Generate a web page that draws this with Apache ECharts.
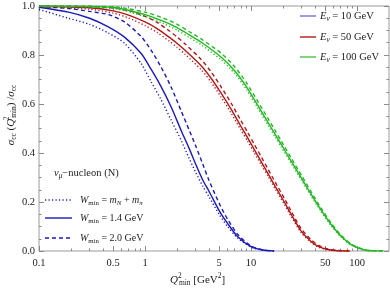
<!DOCTYPE html>
<html><head><meta charset="utf-8">
<script src="https://cdn.jsdelivr.net/npm/echarts@6/dist/echarts.min.js"></script>
<style>html,body{margin:0;padding:0;background:#fff}#c{width:390px;height:289px}</style>
</head><body><div id="c"></div>
<script>
// ---- tick labels ----
const xTickValues = [0.1, 0.5, 1, 5, 10, 50, 100];
const xTickLabels = ['0.1', '0.5', '1', '5', '10', '50', '100'];
const xMinorTicks = [0.2,0.3,0.4,0.6,0.7,0.8,0.9,2,3,4,6,7,8,9,20,30,40,60,70,80,90];

// ---- E = 10 GeV (blue) ----
const qBlue      = [0.1, 0.19, 0.3, 0.45, 0.64, 0.92, 1.14, 1.4, 1.76, 2.2, 2.6, 3.0, 3.5, 4.0, 5.0, 6.0, 7.5, 10, 13, 16.5];
const blueSolid  = [0.995,0.975,0.95,0.915,0.873,0.806,0.742,0.675,0.589,0.49,0.42,0.355,0.29,0.245,0.165,0.113,0.058,0.018,0.004,0];
const blueDashed = [0.998,0.99,0.978,0.965,0.935,0.875,0.82,0.755,0.67,0.57,0.495,0.43,0.355,0.29,0.195,0.13,0.068,0.02,0.004,0];
const blueDotted = [0.986,0.95,0.925,0.89,0.848,0.765,0.691,0.622,0.535,0.45,0.379,0.322,0.265,0.222,0.15,0.1,0.052,0.016,0.003,0];

// ---- E = 50 GeV (red) ----
const qRed      = [0.1, 0.3, 0.5, 0.7, 1.0, 1.3, 1.7, 2.0, 2.4, 3.4, 4.2, 5.2, 6.5, 8.0, 9.3, 10.7, 12.5, 14.5, 17, 20.6, 24, 29.6, 37, 43, 53, 65, 85];
const redSolid  = [0.999,0.993,0.98,0.963,0.935,0.908,0.872,0.848,0.818,0.755,0.705,0.645,0.578,0.51,0.462,0.415,0.364,0.315,0.262,0.2,0.148,0.082,0.038,0.019,0.006,0.001,0];
const redDashed = [1.0,0.998,0.992,0.981,0.958,0.933,0.898,0.874,0.844,0.781,0.731,0.671,0.603,0.533,0.484,0.436,0.384,0.333,0.279,0.215,0.161,0.092,0.045,0.024,0.008,0.002,0];
const redDotted = [0.997,0.987,0.971,0.951,0.92,0.892,0.856,0.832,0.802,0.739,0.689,0.629,0.562,0.495,0.448,0.402,0.352,0.304,0.252,0.191,0.14,0.076,0.034,0.016,0.005,0.001,0];

// ---- E = 100 GeV (green) ----
const qGreen      = [0.1, 0.5, 1.0, 1.5, 2.0, 2.6, 3.4, 5.2, 7.0, 9.0, 11.6, 14.4, 17, 19.2, 23.8, 30, 36.8, 45, 57, 70, 88, 117, 150, 175];
const greenSolid  = [1.0,0.994,0.965,0.937,0.912,0.883,0.852,0.792,0.736,0.672,0.594,0.526,0.474,0.436,0.368,0.296,0.232,0.172,0.108,0.062,0.026,0.004,0.0005,0];
const greenDashed = [1.0,0.997,0.975,0.95,0.926,0.896,0.865,0.808,0.752,0.688,0.61,0.542,0.489,0.45,0.381,0.308,0.242,0.18,0.114,0.066,0.029,0.005,0.001,0];
const greenDotted = [0.999,0.99,0.957,0.928,0.902,0.872,0.841,0.781,0.725,0.661,0.583,0.515,0.464,0.426,0.359,0.288,0.225,0.166,0.103,0.059,0.024,0.003,0.0004,0];

const BLUE = '#1a1ab8', RED = '#b01818', GREEN = '#22b822';
const F = '"Liberation Serif", "DejaVu Serif", serif';
const TXT = '#222';

function pairs(qs, ys) { return qs.map((q, i) => [q, ys[i]]); }
const DASH = [4, 3], DOT = [1.2, 2.3];
function line(name, qs, ys, color, type) {
  return {
    name, type: 'line', data: pairs(qs, ys), showSymbol: false, symbol: 'none',
    smooth: 0.25, silent: true, animation: false,
    lineStyle: { color, width: 1.4, type }
  };
}

function rich(fs) {
  return {
    i:   { fontFamily: F, fontSize: fs, fontStyle: 'italic', color: TXT, lineHeight: 16, height: 16 },
    n:   { fontFamily: F, fontSize: fs, color: TXT, lineHeight: 16, height: 16 },
    sub: { fontFamily: F, fontSize: fs * 0.68, color: TXT, lineHeight: 9, height: 9, verticalAlign: 'bottom' },
    isub:{ fontFamily: F, fontSize: fs * 0.7, fontStyle: 'italic', color: TXT, lineHeight: 9, height: 9, verticalAlign: 'bottom' },
    sup: { fontFamily: F, fontSize: fs * 0.68, color: TXT, lineHeight: 9, height: 9, verticalAlign: 'top' },
    supw:{ fontFamily: F, fontSize: fs * 0.68, color: TXT, lineHeight: 9, height: 9, verticalAlign: 'top', width: 1 }
  };
}
function txt(x, y, text, fs, extra) {
  return Object.assign({
    type: 'text', x, y, silent: true,
    style: { text, rich: rich(fs), align: 'left', verticalAlign: 'middle', fontFamily: F, fontSize: fs, fill: TXT }
  }, extra || {});
}
function seg(x1, x2, y, color, lt) {
  return { type: 'line', silent: true, shape: { x1, y1: y, x2, y2: y },
           style: { stroke: color, lineWidth: 1.4, lineDash: lt } };
}

const axisCommon = { type: 'log', logBase: 10, min: 0.1, max: 200, splitLine: { show: false }, axisLine: { show: false } };
const GRAYT = '#8a8a8a';

const option = {
  animation: false,
  backgroundColor: '#fff',
  grid: { left: 39, top: 6, width: 350, height: 245, show: true, borderColor: '#9a9a9a', borderWidth: 1, backgroundColor: 'transparent' },
  xAxis: [
    Object.assign({}, axisCommon, { position: 'bottom',
      axisTick: { show: true, inside: true, length: 5, lineStyle: { color: GRAYT }, customValues: xTickValues },
      axisLabel: { show: true, customValues: xTickValues, margin: 7, fontFamily: F, fontSize: 10.5, color: TXT,
        formatter: v => { let b = 0; xTickValues.forEach((t, i) => { if (Math.abs(Math.log10(t) - Math.log10(v)) < Math.abs(Math.log10(xTickValues[b]) - Math.log10(v))) b = i; }); return xTickLabels[b]; } } }),
    Object.assign({}, axisCommon, { position: 'bottom',
      axisTick: { show: true, inside: true, length: 2.5, lineStyle: { color: GRAYT }, customValues: xMinorTicks },
      axisLabel: { show: false } }),
    Object.assign({}, axisCommon, { position: 'top',
      axisTick: { show: true, inside: true, length: 5, lineStyle: { color: GRAYT }, customValues: xTickValues },
      axisLabel: { show: false } }),
    Object.assign({}, axisCommon, { position: 'top',
      axisTick: { show: true, inside: true, length: 2.5, lineStyle: { color: GRAYT }, customValues: xMinorTicks },
      axisLabel: { show: false } })
  ],
  yAxis: [
    { type: 'value', min: 0, max: 1, interval: 0.2, position: 'left', splitLine: { show: false }, axisLine: { show: false },
      axisTick: { show: true, inside: true, length: 5, lineStyle: { color: GRAYT } },
      minorTick: { show: true, splitNumber: 4, length: 2.5, lineStyle: { color: GRAYT } },
      axisLabel: { margin: 4, fontFamily: F, fontSize: 10.5, color: TXT, formatter: v => v.toFixed(1) } },
    { type: 'value', min: 0, max: 1, interval: 0.2, position: 'right', splitLine: { show: false }, axisLine: { show: false },
      axisTick: { show: true, inside: true, length: 5, lineStyle: { color: GRAYT } },
      minorTick: { show: true, splitNumber: 4, length: 2.5, lineStyle: { color: GRAYT } },
      axisLabel: { show: false } }
  ],
  series: [
    line('b-dot', qBlue, blueDotted, BLUE, DOT),
    line('b-dash', qBlue, blueDashed, BLUE, DASH),
    line('b-sol', qBlue, blueSolid, BLUE, 'solid'),
    line('r-dot', qRed, redDotted, RED, DOT),
    line('r-dash', qRed, redDashed, RED, DASH),
    line('r-sol', qRed, redSolid, RED, 'solid'),
    line('g-dot', qGreen, greenDotted, GREEN, DOT),
    line('g-dash', qGreen, greenDashed, GREEN, DASH),
    line('g-sol', qGreen, greenSolid, GREEN, 'solid')
  ],
  graphic: [
    seg(300, 316, 16, '#7070dd'), seg(300, 316, 37, RED), seg(300, 316, 57, '#44c444'),
    txt(320, 16, '{i|E}{isub|ν}{n| = 10 GeV}', 10.5),
    txt(320, 37, '{i|E}{isub|ν}{n| = 50 GeV}', 10.5),
    txt(320, 57, '{i|E}{isub|ν}{n| = 100 GeV}', 10.5),
    txt(54, 173, '{i|ν}{isub|μ}{n|−nucleon (N)}', 10.5),
    seg(45, 72, 200, BLUE, DOT), seg(45, 72, 218, BLUE), seg(45, 72, 238, BLUE, DASH),
    txt(80, 200, '{i|W}{sub|min}{n| = }{i|m}{isub|N}{n| + }{i|m}{isub|π}', 10),
    txt(80, 218, '{i|W}{sub|min}{n| = 1.4 GeV}', 10),
    txt(80, 238, '{i|W}{sub|min}{n| = 2.0 GeV}', 10),
    txt(170, 280, '{i|Q}{supw|2}{sub|min}{n| [GeV}{sup|2}{n|]}', 11),
    Object.assign(txt(11, 115, '{i|σ}{sub|cc}{n| (}{i|Q}{supw|2}{sub|min}{n|) /}{i|σ}{sub|cc}', 11), { rotation: Math.PI / 2 })
  ]
};
option.graphic[option.graphic.length - 1].style.align = 'center';
const chart = echarts.init(document.getElementById('c'), null, { renderer: 'canvas' });
chart.setOption(option);
</script>
</body></html>
